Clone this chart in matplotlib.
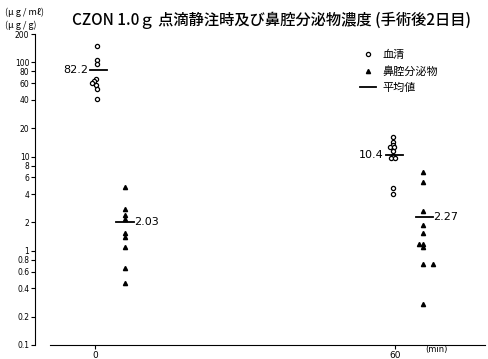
import matplotlib
matplotlib.use('Agg')
import matplotlib.pyplot as plt
from matplotlib.lines import Line2D

plt.rcParams['font.family'] = ['Noto Sans CJK JP', 'DejaVu Sans']

# values
serum_0 = [150, 105, 97, 66, 63, 60, 58, 52, 41]
serum_0_dx = [0.4, 0.4, 0.4, 0.2, -0.2, -0.6, 0.2, 0.4, 0.4]
nasal_0 = [4.8, 2.8, 2.4, 2.2, 1.55, 1.4, 1.1, 0.65, 0.45]
nasal_0_dx = [6, 6, 6, 6, 6, 6, 6, 6, 6]
serum_60 = [16, 14.2, 13.4, 12.5, 12.5, 11.6, 10.2, 9.6, 9.6, 4.6, 4.0]
serum_60_dx = [-0.4, -0.4, -0.4, -1.0, -0.2, -0.4, -0.4, -0.8, 0.0, -0.4, -0.4]
nasal_60 = [6.8, 5.4, 2.67, 1.9, 1.55, 1.18, 1.18, 1.1, 0.73, 0.73, 0.275]
nasal_60_dx = [5.6, 5.6, 5.6, 5.6, 5.6, 4.8, 5.6, 5.6, 5.6, 7.6, 5.6]

means = [82.2, 2.03, 10.4, 2.27]
mean_labels = ['82.2', '2.03', '10.4', '2.27']
times = [0, 0, 60, 60]
mean_dx = [0.7, 6, -0.2, 5.9]

yticks = [0.1, 0.2, 0.4, 0.6, 0.8, 1, 2, 4, 6, 8, 10, 20, 40, 60, 80, 100, 200]
ytick_labels = ['0.1', '0.2', '0.4', '0.6', '0.8', '1', '2', '4', '6', '8',
                '10', '20', '40', '60', '80', '100', '200']

fig = plt.figure(figsize=(4.89, 3.59), dpi=100)
ax = fig.add_axes([35 / 489, 14 / 359, 450 / 489, 311 / 359])

ax.plot([0 + d for d in serum_0_dx], serum_0, 'o', mfc='white', mec='black', ms=3, mew=0.9)
ax.plot([0 + d for d in nasal_0_dx], nasal_0, '^', color='black', ms=3)
ax.plot([60 + d for d in serum_60_dx], serum_60, 'o', mfc='white', mec='black', ms=3, mew=0.9)
ax.plot([60 + d for d in nasal_60_dx], nasal_60, '^', color='black', ms=3)

for i in range(len(means)):
    xc = times[i] + mean_dx[i]
    ax.plot([xc - 1.7, xc + 1.7], [means[i], means[i]], color='black', lw=1.3)
    if i % 2 == 0:
        ax.text(xc - 2.0, means[i], mean_labels[i], ha='right', va='center',
                fontsize=8, family='DejaVu Sans')
    else:
        ax.text(xc + 1.8, means[i], mean_labels[i], ha='left', va='center',
                fontsize=8, family='DejaVu Sans')

ax.set_yscale('log')
ax.set_ylim(0.1, 200)
ax.set_xlim(-12, 78)
ax.set_yticks(yticks)
ax.set_yticklabels(ytick_labels, fontsize=5.5, family='DejaVu Sans')
ax.minorticks_off()
ax.set_xticks([0, 60])
ax.set_xticklabels(['0', '60'], fontsize=6.5, family='DejaVu Sans')
ax.tick_params(axis='y', direction='out', length=3, width=0.8, pad=1)
ax.tick_params(axis='x', direction='out', length=3, width=0.8, pad=1)
ax.spines['top'].set_visible(False)
ax.spines['right'].set_visible(False)
ax.spines['bottom'].set_bounds(-9, 78)

ax.text(66, 0.1, '(min)', ha='left', va='top', fontsize=6, family='DejaVu Sans',
        transform=ax.transData)

handles = [
    Line2D([], [], marker='o', ls='none', mfc='white', mec='black', ms=3, mew=0.9),
    Line2D([], [], marker='^', ls='none', color='black', ms=3),
    Line2D([], [], color='black', lw=1.3),
]
fig.legend(handles, ['血清', '鼻腔分泌物', '平均値'], loc='upper left',
           bbox_to_anchor=(350 / 489, 1 - 40 / 359), frameon=False,
           fontsize=8, handlelength=1.4, handletextpad=0.6, labelspacing=0.55)

fig.text(72 / 489, 1 - 20 / 359, 'CZON 1.0ｇ 点滴静注時及び鼻腔分泌物濃度 (手術後2日目)',
         ha='left', va='center', fontsize=11, fontweight='medium')
fig.text(5 / 489, 1 - 12 / 359, '(μ g / mℓ)', ha='left', va='center', fontsize=6.5)
fig.text(5 / 489, 1 - 25 / 359, '(μ g / g)', ha='left', va='center', fontsize=6.5)

fig.savefig('out.png', dpi=100)
